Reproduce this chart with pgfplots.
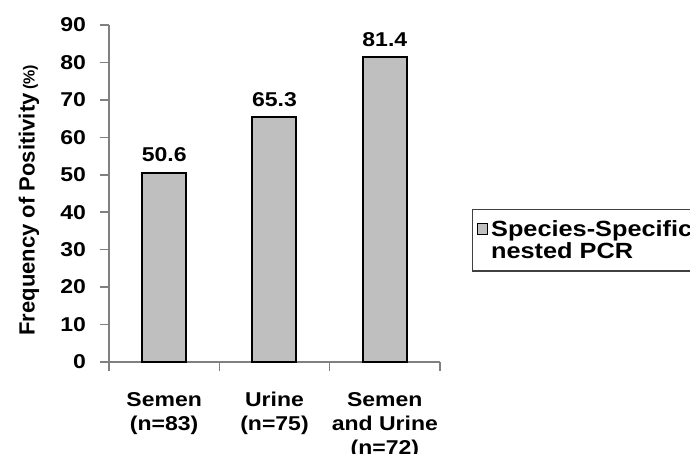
\documentclass[border=0pt]{standalone}
\usepackage{pgfplots}
\pgfplotsset{compat=1.18}
\usepackage{fontspec}
\setmainfont{Liberation Sans}
\newfontfamily\bst{Liberation Sans Bold}[FakeStretch=1.15]
\newcommand{\lbl}{\bst\fontsize{15}{18}\selectfont}
\begin{document}
\begin{tikzpicture}
\useasboundingbox (-81.75pt,-69pt) rectangle (435.75pt,271.5pt);
\clip (-81.75pt,-69pt) rectangle (435.75pt,271.5pt);
\begin{axis}[
  anchor=south west,
  scale only axis, width=248.25pt, height=252.75pt,
  xmin=-0.5, xmax=2.5, ymin=0, ymax=90,
  ytick={0,10,...,90},
  axis x line*=bottom, axis y line*=left,
  axis line style={draw=gray, line width=1.1pt},
  tick align=outside, major tick length=6.75pt,
  tick style={draw=gray, line width=1.1pt},
  xtick={-0.5,0.5,1.5,2.5}, xticklabels={},
  extra x ticks={0,1,2},
  extra x tick labels={Semen\\(n=83), Urine\\(n=75), Semen\\and Urine\\(n=72)},
  extra x tick style={major tick length=0pt, tick style={draw=none},
     tick label style={align=center, yshift=-19pt}},
  /pgf/number format/assume math mode=true,
  tick label style={font=\lbl},
  yticklabel style={xshift=-7pt},
  ylabel={Frequency of Positivity\,{\fontsize{12}{12}\selectfont(\%)}},
  ylabel style={font=\bfseries\fontsize{16.5}{18}\selectfont, yshift=9pt, xshift=-5pt},
  ybar, bar width=33pt,
  nodes near coords,
  nodes near coords style={font=\lbl, yshift=4pt, /pgf/number format/fixed, /pgf/number format/precision=1, /pgf/number format/fixed zerofill},
  legend style={at={(1.0967,0.454)}, anchor=north west, draw=black!75, line width=1.1pt,
     font=\bst\fontsize{16.5}{16.5}\selectfont, cells={align=left}, inner xsep=3pt, inner ysep=6pt},
  legend cell align=left,
  legend image code/.code={\draw[fill=gray!50, draw=black, line width=0.8pt] (5pt,4.5pt) rectangle (13pt,12.5pt);},
]
\addplot[fill=gray!50, draw=black, line width=1.5pt] coordinates {(0,50.6) (1,65.3) (2,81.4)};
\addlegendentry{Species-Specific\\nested PCR}
\end{axis}
\end{tikzpicture}
\end{document}
